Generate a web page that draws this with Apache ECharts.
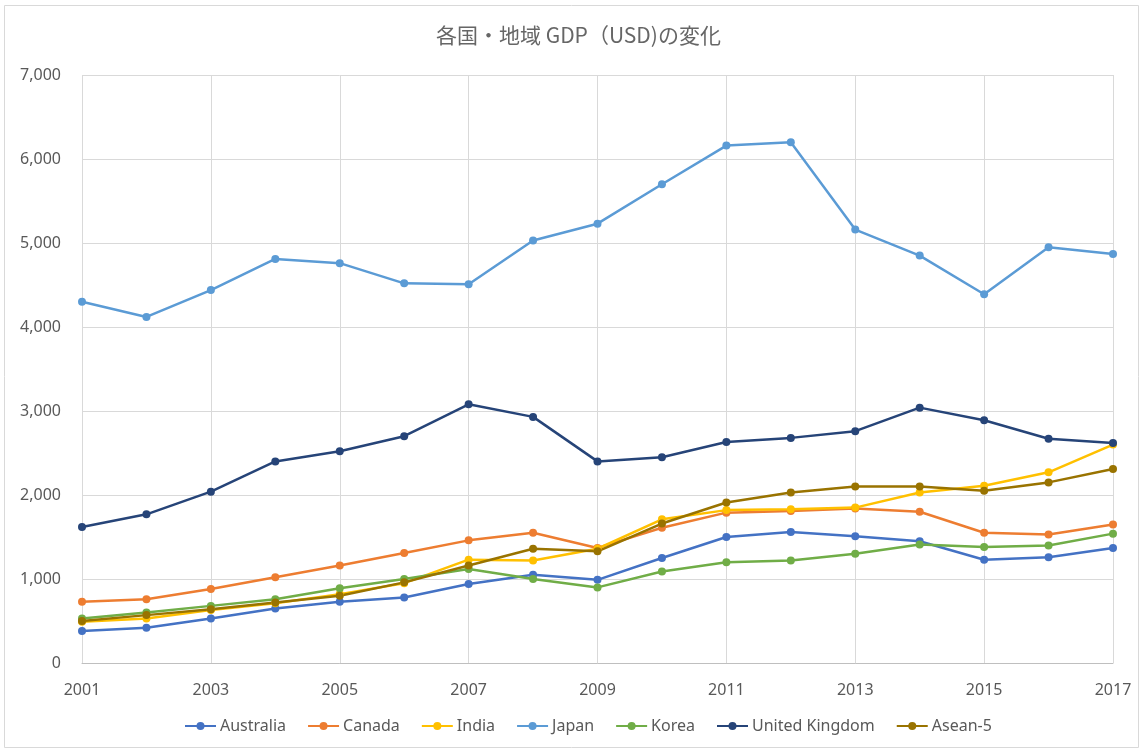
<!DOCTYPE html>
<html><head><meta charset="utf-8">
<script src="https://cdn.jsdelivr.net/npm/echarts@6/dist/echarts.min.js"></script>
<style>html,body{margin:0;padding:0;background:#fff}#c{width:1140px;height:748px}</style>
</head><body><div id="c"></div>
<script>
const years = ['2001','2002','2003','2004','2005','2006','2007','2008','2009','2010','2011','2012','2013','2014','2015','2016','2017'];
const australia = [380,420,530,650,730,780,940,1050,990,1250,1500,1560,1510,1450,1230,1260,1370];
const canada = [730,760,880,1020,1160,1310,1460,1550,1370,1610,1790,1810,1840,1800,1550,1530,1650];
const india = [490,530,630,710,820,950,1230,1220,1360,1710,1820,1830,1850,2030,2110,2270,2600];
const japan = [4300,4120,4440,4810,4760,4520,4510,5030,5230,5700,6160,6200,5160,4850,4390,4950,4870];
const korea = [530,600,680,760,890,1000,1120,1000,900,1090,1200,1220,1300,1410,1380,1400,1540];
const uk = [1620,1770,2040,2400,2520,2700,3080,2930,2400,2450,2630,2680,2760,3040,2890,2670,2620];
const asean5 = [500,570,640,720,800,960,1160,1360,1330,1660,1910,2030,2100,2100,2050,2150,2310];

const names = ['Australia','Canada','India','Japan','Korea','United Kingdom','Asean-5'];
const values = [australia,canada,india,japan,korea,uk,asean5];
const colors = ['#4472C4','#ED7D31','#FFC000','#5B9BD5','#70AD47','#264478','#997300'];
const font = '"Noto Sans", "Noto Sans CJK JP", sans-serif';

const chart = echarts.init(document.getElementById('c'));
chart.setOption({
  animation:false,
  color: colors,
  title:{text:'各国・地域 GDP（USD)の変化', left:431, top:20,
    textStyle:{fontFamily:'"Noto Sans CJK JP", sans-serif', fontSize:21, fontWeight:'normal', color:'#666666'}},
  graphic:[{type:'rect', shape:{x:4.5,y:5.5,width:1134,height:742}, style:{fill:'none', stroke:'#d9d9d9', lineWidth:1}, silent:true}],
  legend:{bottom:14, left:184, padding:0, itemWidth:31, itemHeight:10, itemGap:21,
    textStyle:{fontFamily:font, fontSize:16, color:'#595959', padding:[0,0,0,-1]}},
  grid:{left:82, right:27, top:75, bottom:85, containLabel:false},
  xAxis:{type:'category', data:years, boundaryGap:false,
    axisLine:{lineStyle:{color:'#bfbfbf', width:1}}, axisTick:{show:false},
    axisLabel:{interval:1, color:'#595959', fontFamily:font, fontSize:16, margin:19},
    splitLine:{show:true, interval:1, lineStyle:{color:'#d9d9d9', width:1}}},
  yAxis:{type:'value', min:0, max:7000, interval:1000,
    axisLine:{show:false}, axisTick:{show:false},
    axisLabel:{color:'#595959', fontFamily:font, fontSize:16, margin:21,
      formatter:v=>v.toLocaleString('en-US')},
    splitLine:{lineStyle:{color:'#d9d9d9', width:1}}},
  series: names.map((n,i)=>({name:n, type:'line', data:values[i], symbol:'circle', symbolSize:8,
    lineStyle:{width:2.5}, itemStyle:{color:colors[i]}}))
});
</script></body></html>
